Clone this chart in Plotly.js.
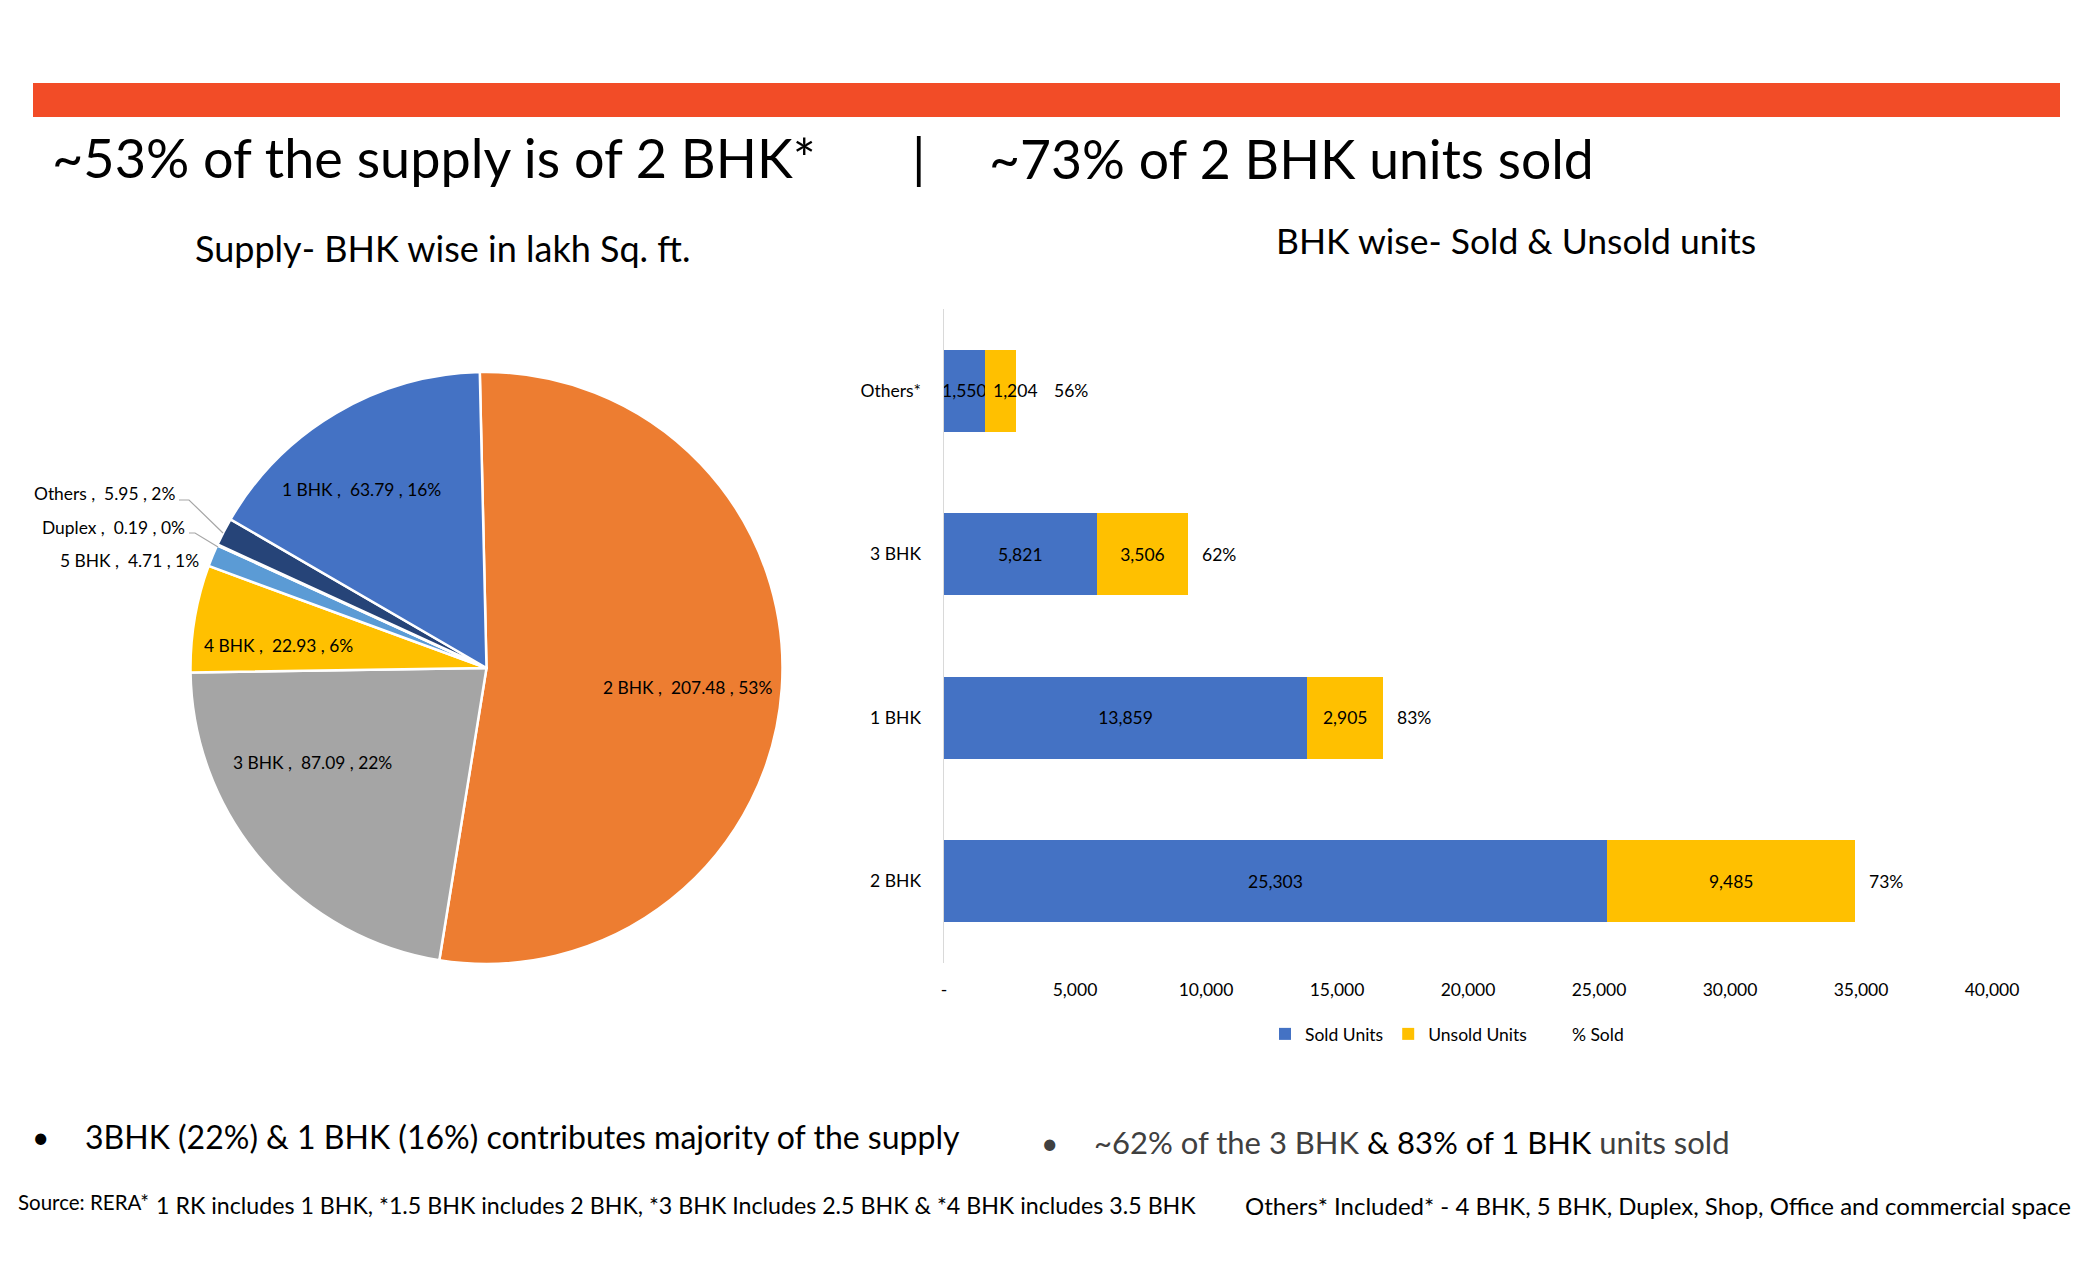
<!DOCTYPE html>
<html>
<head>
<meta charset="utf-8">
<script src="https://cdn.plot.ly/plotly-3.0.1.min.js"></script>
<style>
  html, body { margin: 0; padding: 0; background: #ffffff; }
  #chart { width: 2100px; height: 1275px; }
</style>
</head>
<body>
<div id="chart"></div>
<script>
// ---------- Data ----------
var pieLabels = ["2 BHK", "3 BHK", "4 BHK", "5 BHK", "Duplex", "Others", "1 BHK"];
var pieValues = [207.48, 87.09, 22.93, 4.71, 0.19, 5.95, 63.79];
var pieColors = ["#ED7D31", "#A5A5A5", "#FFC000", "#5B9BD5", "#70AD47", "#264478", "#4472C4"];

var barCategories = ["2 BHK", "1 BHK", "3 BHK", "Others*"];
var soldUnits = [25303, 13859, 5821, 1550];
var unsoldUnits = [9485, 2905, 3506, 1204];

var xTickVals = [0, 5000, 10000, 15000, 20000, 25000, 30000, 35000, 40000];
var xTickText = ["-", "5,000", "10,000", "15,000", "20,000", "25,000", "30,000", "35,000", "40,000"];

var mainTitleLeft = "~53% of the supply is of 2 BHK*";
var mainTitleRight = "~73% of 2 BHK units sold";
var pieTitle = "Supply- BHK wise in lakh Sq. ft.";
var barTitle = "BHK wise- Sold &amp; Unsold units";
var bullet1 = "3BHK (22%) &amp; 1 BHK (16%) contributes majority of the supply";
var bullet2 = "<span style='color:#404040'>~62% of the 3 BHK </span>&amp; 83% of 1 BHK<span style='color:#404040'> units sold</span>";
var sourceLabel = "Source: RERA*";
var sourceNote = "1 RK includes 1 BHK, *1.5 BHK includes 2 BHK, *3 BHK Includes 2.5 BHK &amp; *4 BHK includes 3.5 BHK";
var othersNote = "Others* Included* - 4 BHK, 5 BHK, Duplex, Shop, Office and commercial space";

// ---------- Helpers ----------
var W = 2100, H = 1275;
function px(x) { return x / W; }
function py(y) { return 1 - y / H; }
function fmt(n) { return n.toLocaleString("en-US"); }

var FONT = "Lato, 'Open Sans', sans-serif";

var total = pieValues.reduce(function (a, b) { return a + b; }, 0);
var pieText = pieValues.map(function (v, i) {
  return pieLabels[i] + " ,  " + v.toFixed(2) + " , " + Math.round(v / total * 100) + "%";
});
var barTotals = soldUnits.map(function (s, i) { return s + unsoldUnits[i]; });
// narrow unsold segments cannot hold their label: it is drawn just past the sold segment
var NARROW = 2000;
var isNarrow = unsoldUnits.map(function (u) { return u < NARROW; });
var pctSold = soldUnits.map(function (s, i) {
  return Math.round(s / (s + unsoldUnits[i]) * 100) + "%";
});

// ---------- Traces ----------
var pieTrace = {
  type: "pie",
  labels: pieLabels,
  values: pieValues,
  sort: false,
  direction: "clockwise",
  rotation: -1.3,
  marker: { colors: pieColors, line: { color: "#ffffff", width: 2.5 } },
  textinfo: "none",
  hoverinfo: "label+value+percent",
  showlegend: false,
  domain: { x: [px(190), px(783)], y: [py(964), py(372)] }
};

var barFont = { family: FONT, size: 17.5, color: "#000000" };

var soldTrace = {
  type: "bar",
  orientation: "h",
  name: "Sold Units",
  y: barCategories,
  x: soldUnits,
  marker: { color: "#4472C4" },
  text: soldUnits.map(fmt),
  textposition: "inside",
  insidetextanchor: "middle",
  textangle: 0,
  constraintext: "none",
  textfont: barFont,
  cliponaxis: false,
  xaxis: "x", yaxis: "y"
};

var unsoldTrace = {
  type: "bar",
  orientation: "h",
  name: "Unsold Units",
  y: barCategories,
  x: unsoldUnits,
  marker: { color: "#FFC000" },
  text: unsoldUnits.map(fmt),
  textposition: isNarrow.map(function (n) { return n ? "none" : "inside"; }),
  insidetextanchor: "middle",
  textangle: 0,
  constraintext: "none",
  textfont: barFont,
  cliponaxis: false,
  xaxis: "x", yaxis: "y"
};

var pctLegend = {
  type: "scatter",
  mode: "lines",
  name: "% Sold",
  x: [null], y: [null],
  line: { width: 0, color: "rgba(0,0,0,0)" },
  showlegend: true,
  hoverinfo: "skip",
  xaxis: "x", yaxis: "y"
};

// ---------- Annotations ----------
var ann = [];
function addText(text, x, y, size, opts) {
  opts = opts || {};
  ann.push({
    text: text, x: px(x), y: py(y), xref: "paper", yref: "paper",
    xanchor: opts.xanchor || "center", yanchor: opts.yanchor || "middle",
    showarrow: false,
    font: { family: FONT, size: size, color: opts.color || "#000000" }
  });
}

// data-anchored labels on the bar chart (placed through the axes' scales)
barCategories.forEach(function (c, i) {
  if (isNarrow[i]) {
    ann.push({
      text: fmt(unsoldUnits[i]), x: soldUnits[i], y: c, xref: "x", yref: "y",
      xanchor: "left", yanchor: "middle", xshift: 6, showarrow: false, font: barFont
    });
  }
  ann.push({
    text: pctSold[i], x: barTotals[i], y: c, xref: "x", yref: "y",
    xanchor: "left", yanchor: "middle", xshift: isNarrow[i] ? 36 : 12, showarrow: false, font: barFont
  });
});

addText(mainTitleLeft, 50, 158, 54, { xanchor: "left" });
addText("|", 919, 158, 54, { xanchor: "center" });
addText(mainTitleRight, 987, 158, 53.5, { xanchor: "left" });
addText(pieTitle, 442, 248, 36);
addText(barTitle, 1516, 241, 35.5);

// pie labels (positions are layout only; text comes from data)
var pieLabelPos = [
  { x: 687, y: 688, a: "center" },   // 2 BHK
  { x: 312, y: 762, a: "center" },   // 3 BHK
  { x: 278, y: 645, a: "center" },   // 4 BHK
  { x: 201, y: 561, a: "right" },    // 5 BHK
  { x: 187, y: 527, a: "right" },    // Duplex
  { x: 177, y: 493, a: "right" },    // Others
  { x: 361, y: 489, a: "center" }    // 1 BHK
];
pieText.forEach(function (t, i) {
  addText(t, pieLabelPos[i].x, pieLabelPos[i].y, 17.4, { xanchor: pieLabelPos[i].a });
});

// bullets & notes
addText("\u2022", 40, 1136, 30, { xanchor: "center" });
addText(bullet1, 83, 1136, 32, { xanchor: "left" });
addText("\u2022", 1049, 1142, 30, { xanchor: "center", color: "#404040" });
addText(bullet2, 1092, 1142, 31, { xanchor: "left" });
addText(sourceLabel, 16, 1202, 20.5, { xanchor: "left" });
addText(sourceNote, 154, 1205, 23.2, { xanchor: "left" });
addText(othersNote, 1243, 1205, 24, { xanchor: "left" });

// ---------- Shapes ----------
var shapes = [
  { type: "rect", xref: "paper", yref: "paper", x0: px(33), x1: px(2060), y0: py(117), y1: py(83),
    fillcolor: "#F24C27", line: { width: 0 }, layer: "below" },
  { type: "path", xref: "paper", yref: "paper",
    path: "M " + px(179) + "," + py(500) + " L " + px(189) + "," + py(500) + " L " + px(223) + "," + py(533),
    line: { color: "#A6A6A6", width: 1.2 } },
  { type: "path", xref: "paper", yref: "paper",
    path: "M " + px(189) + "," + py(533) + " L " + px(195) + "," + py(533) + " L " + px(218) + "," + py(547),
    line: { color: "#A6A6A6", width: 1.2 } }
];

var layout = {
  width: W, height: H,
  margin: { l: 0, r: 0, t: 0, b: 0, pad: 0 },
  paper_bgcolor: "#ffffff", plot_bgcolor: "#ffffff",
  font: { family: FONT, color: "#000000" },
  barmode: "stack",
  bargap: 0.5,
  xaxis: {
    domain: [px(944), px(1992)],
    range: [0, 40000],
    tickvals: xTickVals, ticktext: xTickText,
    showgrid: false, zeroline: false, showline: false,
    ticks: "", ticklen: 0, ticklabelstandoff: 14,
    tickfont: { family: FONT, size: 17.5, color: "#000000" },
    fixedrange: true
  },
  yaxis: {
    domain: [py(963), py(309)],
    type: "category",
    categoryorder: "array", categoryarray: barCategories,
    showgrid: false, zeroline: false,
    showline: true, linecolor: "#D9D9D9", linewidth: 1.5,
    ticks: "", ticklabelstandoff: 18,
    tickfont: { family: FONT, size: 17.5, color: "#000000" },
    fixedrange: true
  },
  legend: {
    orientation: "h", x: px(1447), xanchor: "center", y: py(1034), yanchor: "middle",
    font: { family: FONT, size: 17.5, color: "#000000" },
    traceorder: "normal", itemwidth: 30, bgcolor: "rgba(0,0,0,0)"
  },
  annotations: ann,
  shapes: shapes
};

Plotly.newPlot("chart", [pieTrace, soldTrace, unsoldTrace, pctLegend], layout, { displayModeBar: false, staticPlot: true });
</script>
</body>
</html>
